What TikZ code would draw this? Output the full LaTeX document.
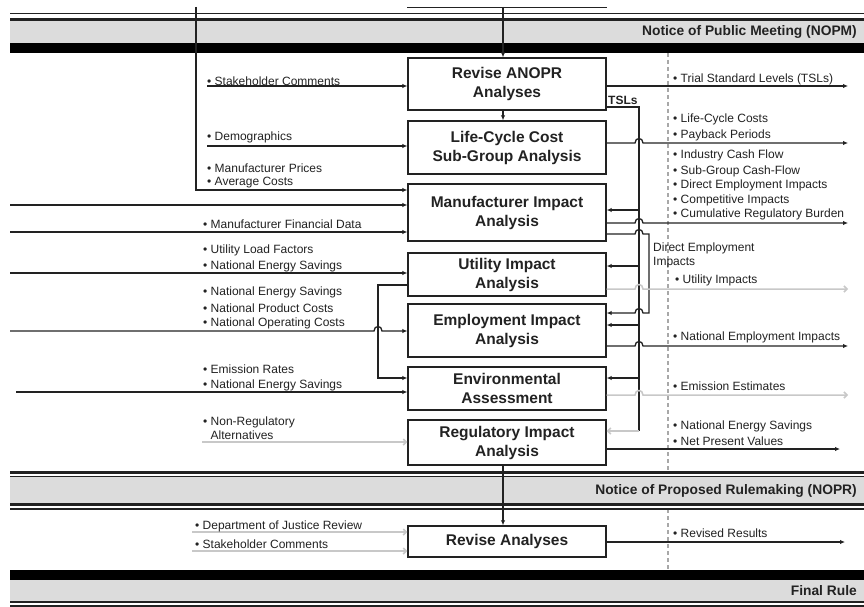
\documentclass[tikz,border=0pt]{standalone}
\usepackage{fontspec}
\setmainfont{Liberation Sans}
\usetikzlibrary{arrows.meta}
\newcommand\lblfont{\fontsize{12}{14}\selectfont}
\newcommand\boxfont{\fontsize{15.5}{19}\selectfont\bfseries}
\newcommand\bandfont{\fontsize{13.8}{16}\selectfont\bfseries}
\definecolor{bandgray}{HTML}{DCDCDC}
\definecolor{lightln}{HTML}{C8C8C8}
\definecolor{dashgray}{HTML}{A8A8A8}
\definecolor{ink}{HTML}{222222}
\tikzset{
  box/.style={draw=ink, line width=1.4pt, minimum width=198pt, minimum height=#1,
    inner sep=0pt, align=center, font=\boxfont, text=ink},
  lbl/.style={anchor=west, inner sep=0pt, font=\lblfont, text=ink, align=left},
  bandlbl/.style={anchor=east, inner sep=0pt, font=\bandfont, text=ink},
  ln/.style={line width=1.3pt, draw=ink},
  arr/.style={ln, -{Latex[length=5pt,width=4.5pt]}},
  gln/.style={line width=1.5pt, draw=lightln},
  garr/.style={gln, -{Straight Barb[length=3pt,width=6pt]}},
}
\begin{document}
\begin{tikzpicture}[x=1pt,y=-1pt]
\useasboundingbox (0,0) rectangle (864,607);
\fill[white] (0,0) rectangle (864,607);
% dashed separator
\draw[dashgray, line width=1.5pt, dash pattern=on 4pt off 3pt] (668,53) -- (668,470);
\draw[dashgray, line width=1.5pt, dash pattern=on 4pt off 3pt] (668,509) -- (668,570);
% band 1 (NOPM)
\fill[ink] (10,12.8) rectangle (864,14.3);
\fill[ink] (10,18) rectangle (864,21);
\fill[bandgray] (10,21) rectangle (864,43);
\fill[black] (10,43) rectangle (864,53);
% band 2 (NOPR)
\fill[ink] (10,470.5) rectangle (864,473.5);
\fill[ink] (10,475.5) rectangle (864,477);
\fill[bandgray] (10,477) rectangle (864,503);
\fill[ink] (10,503) rectangle (864,506);
\fill[ink] (10,508) rectangle (864,509.5);
% band 3 (Final Rule)
\fill[black] (10,570) rectangle (864,580);
\fill[bandgray] (10,580) rectangle (864,600.5);
\fill[ink] (10,600.5) rectangle (864,603);
\fill[ink] (10,605) rectangle (864,606.5);
\node[bandlbl] (b1) at (857,32) {Notice of Public Meeting (NOPM)};
\node[bandlbl] (b2) at (857,491) {Notice of Proposed Rulemaking (NOPR)};
\node[bandlbl] (b3) at (857,591) {Final Rule};
% boxes
\node[box=52pt] (rev) at (507,84) {Revise ANOPR\\Analyses};
\node[box=53pt] (lcc) at (507,147.5) {Life-Cycle Cost\\Sub-Group Analysis};
\node[box=57pt] (mia) at (507,212.5) {Manufacturer Impact\\Analysis};
\node[box=43pt] (uia) at (507,274.5) {Utility Impact\\Analysis};
\node[box=53pt] (eia) at (507,330.5) {Employment Impact\\Analysis};
\node[box=43pt] (env) at (507,388.5) {Environmental\\Assessment};
\node[box=45pt] (ria) at (507,442.5) {Regulatory Impact\\Analysis};
\node[box=31pt] (ra) at (507,541.5) {Revise Analyses};
% top remnants
\coordinate (top1) at (196,7);
\coordinate (top2) at (503,7);
\draw[ink, line width=0.9pt] (rev.west |- 0,7) -- (rev.east |- 0,7);
\draw[arr] (top2) -- (rev.north -| top2);
\draw[arr] (rev.south -| top2) -- (lcc.north -| top2);
\draw[arr] (ria.south -| top2) -- (ra.north -| top2);
% left inputs
\coordinate (in1) at (207,86);
\coordinate (in2) at (207,146);
\coordinate (in3) at (10,205);
\coordinate (in4) at (10,232);
\coordinate (in5) at (10,273);
\coordinate (in6) at (10,331);
\coordinate (in7) at (16,392);
\coordinate (in8) at (202,442);
\coordinate (in9) at (192,532);
\coordinate (in10) at (192,551);
\draw[arr] (in1) -- (rev.west |- in1);
\draw[arr] (in2) -- (lcc.west |- in2);
\draw[arr] (top1) -- (196,190) -- (mia.west |- 0,190);
\draw[arr] (in3) -- (mia.west |- in3);
\draw[arr] (in4) -- (mia.west |- in4);
\draw[arr] (in5) -- (uia.west |- in5);
\draw[arr] (uia.west |- 0,285) -- (378,285) -- (378,378) -- (env.west |- 0,378);
\draw[arr] (in6) -- (374,331) .. controls (374,325) and (382,325) .. (382,331) -- (eia.west |- in6);
\draw[arr] (in7) -- (env.west |- in7);
\draw[garr] (in8) -- (ria.west |- in8);
\draw[garr] (in9) -- (ra.west |- in9);
\draw[garr] (in10) -- (ra.west |- in10);
% TSL bus
\draw[ln] (rev.east |- 0,107) -- (639,107) -- (639,431);
\draw[garr] (639,431) -- (ria.east |- 0,431);
\draw[arr] (639,210) -- (mia.east |- 0,210);
\draw[arr] (639,266) -- (uia.east |- 0,266);
\draw[arr] (639,325) -- (eia.east |- 0,325);
\draw[arr] (639,378) -- (env.east |- 0,378);
% right outputs
\coordinate (out1) at (848,86);
\coordinate (out2) at (848,143);
\coordinate (out3) at (848,223);
\coordinate (out4) at (848,289);
\coordinate (out5) at (848,346);
\coordinate (out6) at (848,395);
\coordinate (out7) at (840,449);
\coordinate (out8) at (845,542);
\draw[arr] (rev.east |- out1) -- (out1);
\draw[arr] (lcc.east |- out2) -- (635,143) .. controls (635,137) and (643,137) .. (643,143) -- (out2);
\draw[arr] (mia.east |- out3) -- (635,223) .. controls (635,217) and (643,217) .. (643,223) -- (out3);
\draw[arr] (mia.east |- 0,234) -- (635,234) .. controls (635,228) and (643,228) .. (643,234) -- (649,234) -- (649,313) -- (643,313) .. controls (643,307) and (635,307) .. (635,313) -- (eia.east |- 0,313);
\draw[garr] (uia.east |- out4) -- (635,289) .. controls (635,283) and (643,283) .. (643,289) -- (out4);
\draw[arr] (eia.east |- out5) -- (635,346) .. controls (635,340) and (643,340) .. (643,346) -- (out5);
\draw[garr] (env.east |- out6) -- (635,395) .. controls (635,389) and (643,389) .. (643,395) -- (out6);
\draw[arr] (ria.east |- out7) -- (out7);
\draw[arr] (ra.east |- out8) -- (out8);
% left labels
\node[lbl] (l1) at (207,81) {• Stakeholder Comments};
\node[lbl] (l2) at (207,137) {• Demographics};
\node[lbl] (l3) at (207,168) {• Manufacturer Prices};
\node[lbl] (l4) at (207,183) {• Average Costs};
\node[lbl] (l5) at (203,224) {• Manufacturer Financial Data};
\node[lbl] (l6) at (203,250) {• Utility Load Factors};
\node[lbl] (l7) at (203,266) {• National Energy Savings};
\node[lbl] (l8) at (203,292) {• National Energy Savings};
\node[lbl] (l9) at (203,308) {• National Product Costs};
\node[lbl] (l10) at (203,323) {• National Operating Costs};
\node[lbl] (l11) at (203,369) {• Emission Rates};
\node[lbl] (l12) at (203,385) {• National Energy Savings};
\node[lbl] (l13) at (203,428) {• Non-Regulatory\\\hphantom{• }Alternatives};
\node[lbl] (l14) at (195,526) {• Department of Justice Review};
\node[lbl] (l15) at (195,544) {• Stakeholder Comments};
% right labels
\node[lbl, font=\lblfont\bfseries] (tsl) at (608,100) {TSLs};
\node[lbl] (r1) at (673,79) {• Trial Standard Levels (TSLs)};
\node[lbl] (r2) at (673,119) {• Life-Cycle Costs};
\node[lbl] (r3) at (673,135) {• Payback Periods};
\node[lbl] (r4) at (673,155) {• Industry Cash Flow};
\node[lbl] (r5) at (673,171) {• Sub-Group Cash-Flow};
\node[lbl] (r6) at (673,185) {• Direct Employment Impacts};
\node[lbl] (r7) at (673,200) {• Competitive Impacts};
\node[lbl] (r8) at (673,214) {• Cumulative Regulatory Burden};
\node[lbl] (r9) at (653,255) {Direct Employment\\Impacts};
\node[lbl] (r10) at (675,280) {• Utility Impacts};
\node[lbl] (r11) at (673,337) {• National Employment Impacts};
\node[lbl] (r12) at (673,386) {• Emission Estimates};
\node[lbl] (r13) at (673,426) {• National Energy Savings};
\node[lbl] (r14) at (673,441) {• Net Present Values};
\node[lbl] (r15) at (673,533) {• Revised Results};
\end{tikzpicture}
\end{document}
